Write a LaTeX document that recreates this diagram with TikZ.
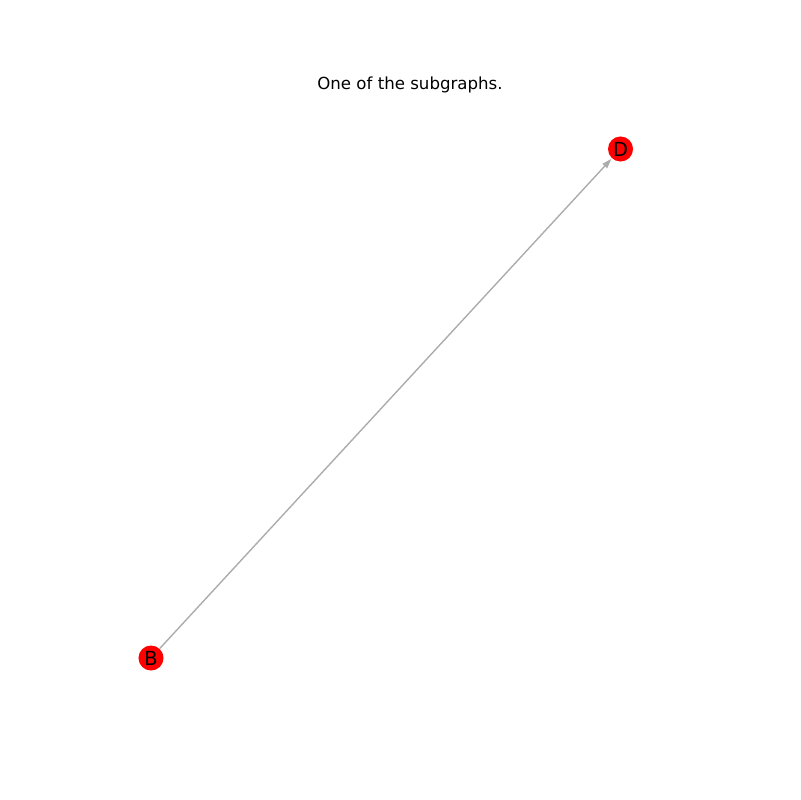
\documentclass[tikz,border=0pt]{standalone}
\usepackage{fontspec}
\setmainfont{DejaVu Sans}
\usetikzlibrary{arrows.meta}
\definecolor{edgegray}{RGB}{172,172,172}
\tikzset{
  vertex/.style={circle, fill=red, draw=none, minimum size=0.25in, inner sep=0pt, font=\fontsize{14}{16}\selectfont},
  edge/.style={draw=edgegray, line width=1pt, -{Stealth[length=7pt,width=4.5pt,inset=0pt]}, shorten >=0.5pt},
  title/.style={font=\fontsize{12}{14}\selectfont}
}
\begin{document}
\begin{tikzpicture}[x=0.01in, y=-0.01in]
\useasboundingbox[fill=white] (0,0) rectangle (800,800);
\node[title] (t) at (410,85) {One of the subgraphs.};
\node[vertex] (B) at (151,658) {B};
\node[vertex] (D) at (620.5,149) {D};
\draw[edge] (B) -- (D);
\end{tikzpicture}
\end{document}
